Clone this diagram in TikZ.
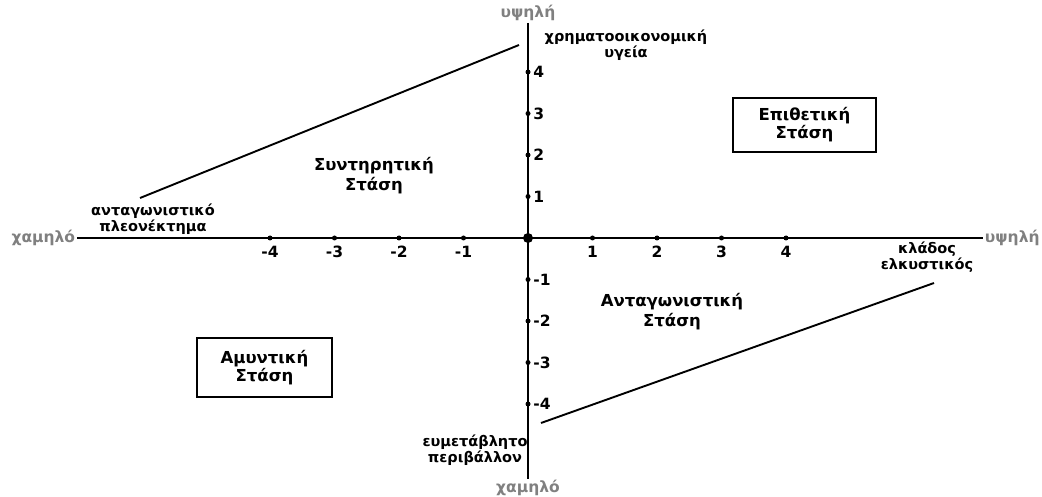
\documentclass[tikz,border=0pt]{standalone}
\usepackage{fontspec}
\setmainfont{DejaVu Sans}
\usetikzlibrary{positioning,calc}

\begin{document}
\begin{tikzpicture}[x=1pt, y=-1pt, line width=1.9pt,
  font=\bfseries\fontsize{14.5}{16}\selectfont,
  lbl/.style={align=center, inner sep=0pt},
  region/.style={align=center, inner sep=0pt, font=\bfseries\fontsize{16.5}{20}\selectfont},
  endlbl/.style={text=black!50, inner sep=1pt, font=\bfseries\fontsize{15.5}{18}\selectfont},
  tick/.style={circle, fill, inner sep=0pt, minimum size=5pt},
  num/.style={inner sep=0pt, font=\bfseries\fontsize{15.5}{16}\selectfont},
  stance/.style={draw, line width=1.4pt, align=center, font=\bfseries\fontsize{16.5}{18}\selectfont}]
  \useasboundingbox (0,0) rectangle (1042,497);
  \coordinate (o) at (528,238);
  % axis ends
  \node[endlbl, anchor=east] (xlo) at (77,238) {χαμηλό};
  \node[endlbl, anchor=west] (xhi) at (983,238) {υψηλή};
  \node[endlbl, anchor=south] (yhi) at (528,23) {υψηλή};
  \node[endlbl, anchor=base, inner sep=0pt] (ylo) at (528,492) {χαμηλό};
  \draw (xlo.east) -- (xhi.west);
  \draw (yhi.south) -- (ylo.north);
  \node[circle, fill, inner sep=0pt, minimum size=10pt] at (o) {};
  % ticks
  \foreach \i in {-4,...,-1,1,2,3,4} {
    \node[tick] (tx\i) at ($(o)+(64.5*\i,0)$) {};
    \node[num, below=4pt of tx\i] {\i};
    \node[tick] (ty\i) at ($(o)+(0,-41.5*\i)$) {};
    \node[num, right=1pt of ty\i] {\i};
  }
  % labels
  \node[lbl] (fin) at (626,45) {χρηματοοικονομική\\υγεία};
  \node[lbl] (adv) at (153,219) {ανταγωνιστικό\\πλεονέκτημα};
  \node[lbl] (attr) at (927,257) {κλάδος\\ελκυστικός};
  \node[lbl] (env) at (475,450) {ευμετάβλητο\\περιβάλλον};
  \node[region] (cons) at (374,176) {Συντηρητική\\Στάση};
  \node[region] (comp) at (672,312) {Ανταγωνιστική\\Στάση};
  \node[stance, minimum width=143pt, minimum height=54pt] (aggr) at (804.5,125) {Επιθετική\\Στάση};
  \node[stance, minimum width=135pt, minimum height=59pt] (def) at (264.5,367.5) {Αμυντική\\Στάση};
  % boundary lines
  \coordinate (ul1) at (140,198);
  \coordinate (ul2) at (519,45);
  \coordinate (lr1) at (541,423);
  \coordinate (lr2) at (934,283);
  \draw (ul1) -- (ul2);
  \draw (lr1) -- (lr2);
\end{tikzpicture}
\end{document}
